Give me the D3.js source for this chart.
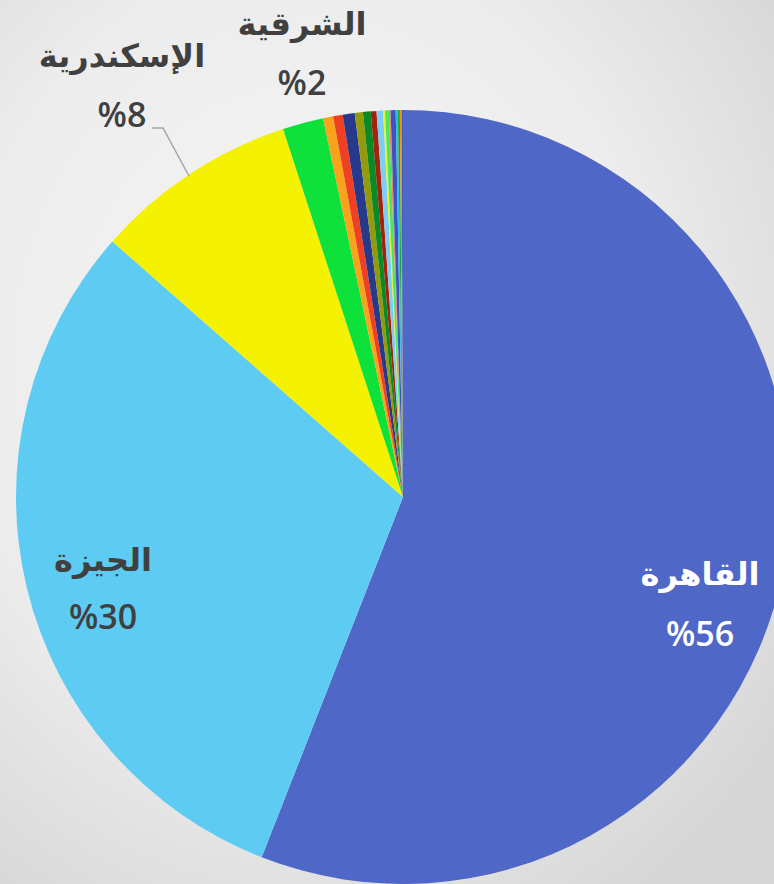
<!DOCTYPE html>
<html><head><meta charset="utf-8">
<script src="https://cdn.jsdelivr.net/npm/d3@7"></script>
<style>html,body{margin:0;padding:0;overflow:hidden}svg{display:block}</style>
</head><body>
<script>
const categories = ["القاهرة","الجيزة","الإسكندرية","الشرقية","م5","م6","م7","م8","م9","م10","م11","م12","م13","م14","م15","م16","م17","م18","م19"];
const values = [55.9,30.5,8.5,1.7,0.42,0.4,0.5,0.34,0.32,0.24,0.27,0.08,0.16,0.07,0.21,0.09,0.08,0.07,0.06];
const colors = ["#4f68c8","#5ecbf2","#f4f200","#0ee23a","#f9a21c","#ee4123","#26398a","#939a0b","#0a8a25","#a2230e","#7fcdf5","#eef030","#45e860","#f08070","#3b55c0","#30b8f0","#18a830","#f09010","#4060c8"];
const labels = [
  {i:0, name:"القاهرة", pct:"%56", x:700, y1:585, y2:646, fill:"#ffffff"},
  {i:1, name:"الجيزة", pct:"%30", x:103, y1:571, y2:629, fill:"#404040"},
  {i:2, name:"الإسكندرية", pct:"%8", x:122, y1:67, y2:127, fill:"#404040"},
  {i:3, name:"الشرقية", pct:"%2", x:302, y1:35, y2:95, fill:"#404040"}
];

const W=774,H=884, cx=403, cy=497, R=387;
const svg=d3.select("body").append("svg").attr("width",W).attr("height",H);
const defs=svg.append("defs");
const g1=defs.append("radialGradient").attr("id","bg").attr("cx","40%").attr("cy","40%").attr("r","75%");
g1.append("stop").attr("offset","0%").attr("stop-color","#f7f7f7");
g1.append("stop").attr("offset","60%").attr("stop-color","#ececec");
g1.append("stop").attr("offset","100%").attr("stop-color","#d6d6d6");
svg.append("rect").attr("width",W).attr("height",H).attr("fill","url(#bg)");

const pie=d3.pie().sort(null).value(d=>d)(values);
const arc=d3.arc().innerRadius(0).outerRadius(R);
const gp=svg.append("g").attr("transform",`translate(${cx},${cy})`);
gp.selectAll("path").data(pie).join("path").attr("d",arc).attr("fill",(d,i)=>colors[i]);

// leader line for Alexandria
svg.append("polyline").attr("points","152,128 163,128 189,176").attr("fill","none").attr("stroke","#a6a6a6").attr("stroke-width",1.5);

const lg=svg.append("g");
labels.forEach(l=>{
  lg.append("text").attr("x",l.x).attr("y",l.y1).attr("text-anchor","middle").attr("direction","rtl")
    .attr("font-family","'DejaVu Sans', sans-serif").attr("font-weight","bold").attr("font-size",32)
    .attr("fill",l.fill).text(l.name);
  lg.append("text").attr("x",l.x).attr("y",l.y2).attr("text-anchor","middle")
    .attr("font-family","'Open Sans', sans-serif").attr("font-weight",600).attr("font-size",34)
    .attr("fill",l.fill).text(l.pct);
});
</script>
</body></html>
